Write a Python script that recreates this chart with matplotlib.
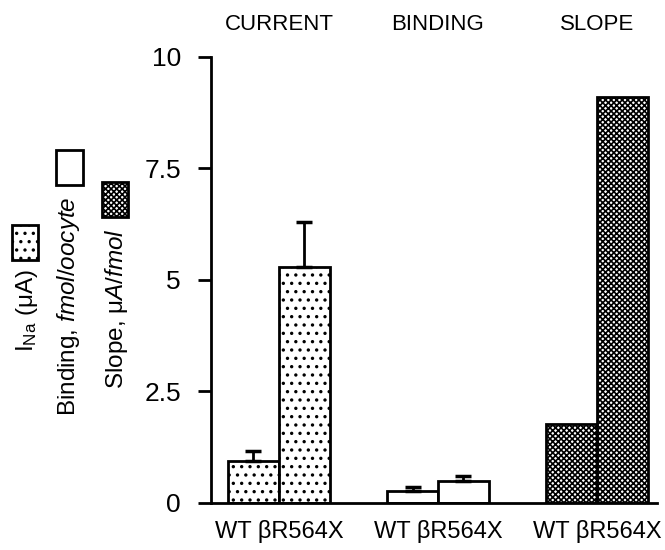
import matplotlib
matplotlib.use('Agg')
import matplotlib.pyplot as plt
from matplotlib.patches import Rectangle

plt.rcParams['font.family'] = ['Liberation Sans', 'DejaVu Sans']
plt.rcParams['mathtext.fontset'] = 'custom'
plt.rcParams['mathtext.rm'] = 'Liberation Sans'
plt.rcParams['mathtext.it'] = 'Liberation Sans:italic'
plt.rcParams['hatch.linewidth'] = 1.2

groups = ['CURRENT', 'BINDING', 'SLOPE']
tick_labels = ['WT βR564X', 'WT βR564X', 'WT βR564X']
wt_values = [0.93, 0.26, 1.77]
mut_values = [5.3, 0.5, 9.1]
wt_err = [0.24, 0.1, 0.0]
mut_err = [1.0, 0.1, 0.0]
hatches = ['..', '', 'xxxxxx']

legend_labels = [r'I$_{\mathrm{Na}}$ (μA)', r'Binding, $\it{fmol/oocyte}$', r'Slope, μ$\it{A/fmol}$']

fig = plt.figure(figsize=(6.65, 5.5), dpi=100)
ax = fig.add_axes([0.317, 0.0855, 0.671, 0.8109])

w = 0.32
for i in range(len(groups)):
    ax.bar(i - w / 2, wt_values[i], w, color='white', edgecolor='black',
           hatch=hatches[i], linewidth=2.0)
    ax.bar(i + w / 2, mut_values[i], w, color='white', edgecolor='black',
           hatch=hatches[i], linewidth=2.0)
    if wt_err[i] > 0:
        ax.errorbar(i - w / 2, wt_values[i], yerr=[[0], [wt_err[i]]], fmt='none',
                    ecolor='black', elinewidth=2.0, capsize=6, capthick=2.5)
    if mut_err[i] > 0:
        ax.errorbar(i + w / 2, mut_values[i], yerr=[[0], [mut_err[i]]], fmt='none',
                    ecolor='black', elinewidth=2.0, capsize=6, capthick=2.5)
    ax.text(i, 1.072, groups[i], transform=ax.get_xaxis_transform(),
            ha='center', va='center', fontsize=16)

ax.set_xlim(-0.428, 2.377)
ax.set_ylim(0, 10)
ax.set_yticks([0, 2.5, 5, 7.5, 10])
ax.set_yticklabels(['0', '2.5', '5', '7.5', '10'])
ax.set_xticks(range(len(groups)))
ax.set_xticklabels(tick_labels)
ax.tick_params(axis='x', length=0, pad=12, labelsize=17)
ax.tick_params(axis='y', length=9.5, width=2, pad=12, labelsize=19)
ax.spines['top'].set_visible(False)
ax.spines['right'].set_visible(False)
ax.spines['left'].set_linewidth(2)
ax.spines['bottom'].set_linewidth(2)

# legend on the left: rotated labels with swatches above them
W, H = 665.0, 550.0
text_pos = [(27, 352), (69, 416), (116, 389)]
box_pos = [(12, 225, 26, 35), (56, 150, 27, 35), (102, 182, 26, 35)]
for lab, (tx, ty), (bx, by, bw, bh), hh in zip(legend_labels, text_pos, box_pos, hatches):
    fig.text(tx / W, 1 - ty / H, lab, rotation=90, ha='center', va='bottom', fontsize=17.5)
    fig.patches.append(Rectangle((bx / W, 1 - (by + bh) / H), bw / W, bh / H,
                                 transform=fig.transFigure, facecolor='white',
                                 edgecolor='black', hatch=hh, linewidth=2.0))

fig.savefig('out.png', dpi=100)
